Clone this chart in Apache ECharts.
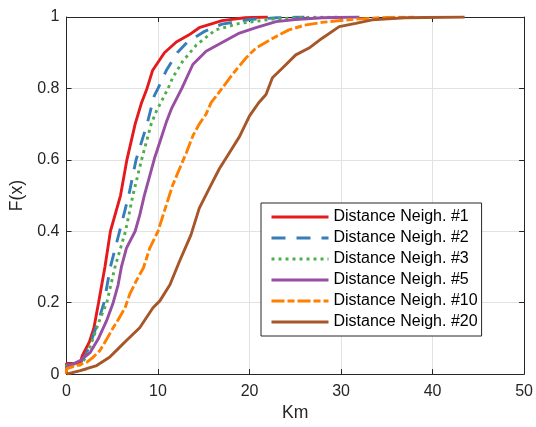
<!DOCTYPE html>
<html>
<head>
<meta charset="utf-8">
<script src="https://cdn.jsdelivr.net/npm/echarts@6/dist/echarts.min.js"></script>
<style>html,body{margin:0;padding:0;background:#fff}#c{width:536px;height:427px}</style>
</head>
<body>
<div id="c"></div>
<script>
// Series names
const names = ["Distance Neigh. #1","Distance Neigh. #2","Distance Neigh. #3","Distance Neigh. #5","Distance Neigh. #10","Distance Neigh. #20"];
// Km values and CDF values per series
const x1 = [0,0,1.5,1.7,2.5,3.0,3.5,4.2,4.8,5.9,6.6,7.5,8.2,8.8,9.4,10.7,12,13.4,14.5,17,19.5,22];
const f1 = [0,0.03,0.03,0.05,0.09,0.13,0.2,0.3,0.4,0.5,0.6,0.7,0.76,0.8,0.85,0.9,0.93,0.95,0.97,0.99,0.998,1];
const x2 = [0,0,1.5,2.2,2.8,3.5,4.1,4.8,5.8,6.8,7.6,8.8,9.6,10.0,10.9,12.1,13.2,15.1,17,20,23,26];
const f2 = [0,0.025,0.03,0.06,0.1,0.15,0.2,0.3,0.4,0.5,0.6,0.7,0.78,0.8,0.85,0.9,0.93,0.96,0.98,0.993,0.998,1];
const x3 = [0,0,1.5,2.2,2.9,3.6,4.4,5.3,6.45,7.25,8.2,9.25,9.8,10.5,11.1,11.6,12.7,14.2,16.3,18.9,22.5,26,30];
const f3 = [0,0.025,0.025,0.05,0.1,0.15,0.2,0.3,0.4,0.5,0.6,0.7,0.735,0.77,0.8,0.83,0.876,0.922,0.964,0.982,0.994,0.999,1];
const x5 = [0,0,1.5,2.6,3.46,4.37,5.1,5.64,6.0,6.55,7.5,8.0,8.5,9.1,9.6,10.2,10.9,11.5,12.6,13.8,15.25,17.1,18.9,20.7,22.9,25,28,32];
const f5 = [0,0.02,0.038,0.061,0.098,0.149,0.2,0.25,0.3,0.353,0.4,0.445,0.5,0.556,0.603,0.65,0.705,0.745,0.8,0.867,0.904,0.93,0.955,0.97,0.987,0.993,0.998,1];
const x10 = [0,0,1.5,2.2,2.9,3.65,4.4,5.1,5.6,6.4,6.9,7.6,8.4,9.1,10.0,10.9,11.6,12.35,13.1,13.8,14.5,15.25,15.8,16.7,18.15,19.6,20.7,22.5,24.3,26,27.9,31.6,35,38];
const f10 = [0,0.015,0.027,0.033,0.047,0.066,0.098,0.13,0.15,0.186,0.223,0.26,0.297,0.353,0.4,0.473,0.529,0.575,0.62,0.667,0.7,0.728,0.76,0.79,0.84,0.885,0.913,0.94,0.964,0.977,0.985,0.994,0.999,1];
const x20 = [0,0,1.5,2.2,3.3,4.7,5.6,6.55,8.0,9.45,10.2,11.3,12.35,13.6,14.5,15.6,16.7,17.8,18.9,20.0,21.0,21.8,22.5,23.6,25.05,26.5,27.9,29.8,31.6,33.4,37,43.5];
const f20 = [0,0.005,0.01,0.015,0.024,0.047,0.07,0.094,0.13,0.186,0.205,0.25,0.316,0.39,0.464,0.52,0.575,0.62,0.665,0.723,0.76,0.783,0.83,0.857,0.894,0.913,0.94,0.973,0.982,0.992,0.998,1];
// Axis ticks
const xTicks = [0,10,20,30,40,50];
const yTicks = [0,0.2,0.4,0.6,0.8,1];

const colors = ['#e41a1c','#377eb8','#4daf4a','#984ea3','#ff7f00','#a65628'];
const dashes = ['solid',[14,11],[3,4],'solid',[13,3,7,3],'solid'];
const xs = [x1,x2,x3,x5,x10,x20];
const fs = [f1,f2,f3,f5,f10,f20];

const font = '"Liberation Sans", Arial, Helvetica, sans-serif';
const txt = '#262626';

const series = names.map((n,i)=>({
  name:n, type:'line', xAxisIndex:0, yAxisIndex:0,
  data: xs[i].map((x,j)=>[x,fs[i][j]]),
  showSymbol:false, symbol:'none', animation:false,
  lineStyle:{color:colors[i], width:2.9, type:dashes[i]},
  itemStyle:{color:colors[i]}
}));

function xa(pos, main){
  return {
    type:'value', position:pos, min:xTicks[0], max:xTicks[xTicks.length-1], interval:10,
    axisLine:{show:true, onZero:false, lineStyle:{color:txt, width:1}},
    axisTick:{show:true, inside:true, length:5, lineStyle:{color:txt}},
    axisLabel:{show:main, color:txt, fontSize:16, fontFamily:font, margin:9},
    splitLine:{show:main, lineStyle:{color:'#e2e2e2', width:1}},
    name: main ? 'Km' : '', nameLocation:'middle', nameGap:27,
    nameTextStyle:{color:txt, fontSize:17.6, fontFamily:font}
  };
}
function ya(pos, main){
  return {
    type:'value', position:pos, min:0, max:1, interval:0.2,
    axisLine:{show:true, onZero:false, lineStyle:{color:txt, width:1}},
    axisTick:{show:true, inside:true, length:5, lineStyle:{color:txt}},
    axisLabel:{show:main, color:txt, fontSize:16, fontFamily:font, margin:7},
    splitLine:{show:main, lineStyle:{color:'#e2e2e2', width:1}},
    name: main ? 'F(x)' : '', nameLocation:'middle', nameGap:40,
    nameTextStyle:{color:txt, fontSize:17.6, fontFamily:font}
  };
}

const chart = echarts.init(document.getElementById('c'), null, {renderer:'canvas'});
chart.setOption({
  animation:false,
  backgroundColor:'#fff',
  color:colors,
  grid:{left:66.5, right:10, top:17, bottom:50, containLabel:false},
  xAxis:[xa('bottom',true), xa('top',false)],
  yAxis:[ya('left',true), ya('right',false)],
  legend:{
    orient:'vertical', left:261, top:203,
    backgroundColor:'#fff', borderColor:txt, borderWidth:1, borderRadius:0,
    padding:[6,4,6,9], itemWidth:57, itemHeight:16, itemGap:5,
    textStyle:{color:'#000', fontSize:16, fontFamily:font},
    itemStyle:{opacity:0},
    lineStyle:{width:3},
    data:names
  },
  series: series
});
</script>
</body>
</html>
